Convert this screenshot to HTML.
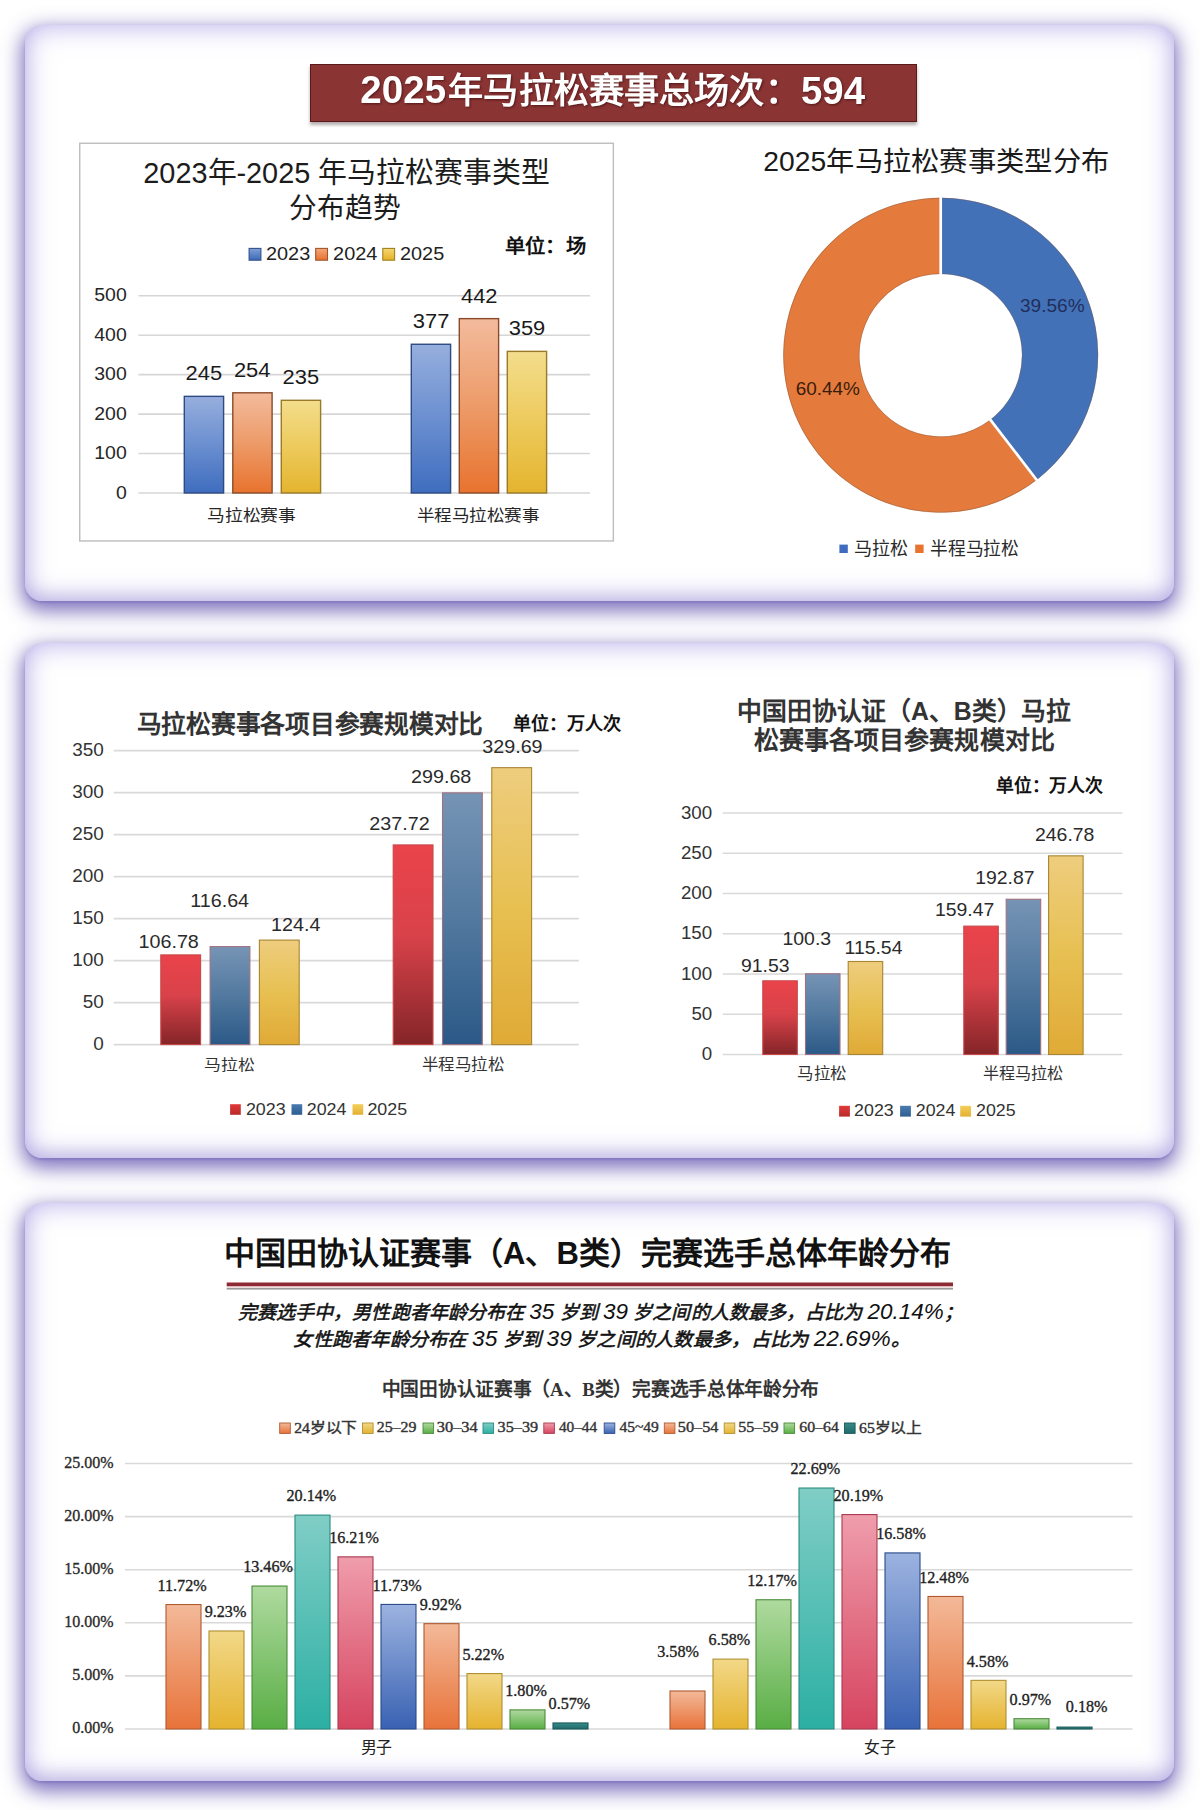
<!DOCTYPE html>
<html lang="zh-CN"><head><meta charset="utf-8"><title>2025马拉松赛事</title>
<style>
html,body{margin:0;padding:0;background:#fff;}
body{width:1200px;height:1810px;position:relative;overflow:hidden;font-family:"Liberation Sans",sans-serif;}
.card{position:absolute;left:25px;width:1149px;border-radius:17px;background:#fff;
box-shadow: inset 0 0 26px 2px rgba(150,135,225,0.62), inset 0 -8px 14px -2px rgba(140,135,175,0.22), 0 7px 20px 3px rgba(95,80,175,0.82), 0 2px 2px rgba(95,80,175,0.25);}
#c1{top:25px;height:576px;}
#c2{top:643px;height:515px;}
#c3{top:1203px;height:578px;}
#banner{position:absolute;left:309.5px;top:63.5px;width:605.5px;height:56px;background:#8a3434;border:1.5px solid #5a1a1d;
box-shadow:0 3px 3px rgba(40,20,20,0.35);color:#fff;font-weight:bold;font-size:36.7px;line-height:56px;text-align:center;}
#banner span{display:inline-block;position:relative;left:0px;top:-1px;transform:scaleY(1.05);text-shadow:1px 1px 2px rgba(40,0,0,0.55);}
svg#ov{position:absolute;left:0;top:0;}
</style></head><body>
<div class="card" id="c1"></div>
<div class="card" id="c2"></div>
<div class="card" id="c3"></div>
<div id="banner"></div>
<svg id="ov" width="1200" height="1810" viewBox="0 0 1200 1810"><defs><linearGradient id="c1b" x1="0" y1="0" x2="0" y2="1"><stop offset="0" stop-color="#96aedd"/><stop offset="0.5" stop-color="#6b8fd0"/><stop offset="1" stop-color="#3f6dbf"/></linearGradient><linearGradient id="c1o" x1="0" y1="0" x2="0" y2="1"><stop offset="0" stop-color="#f3bb9c"/><stop offset="0.5" stop-color="#ed9b69"/><stop offset="1" stop-color="#e8732e"/></linearGradient><linearGradient id="c1y" x1="0" y1="0" x2="0" y2="1"><stop offset="0" stop-color="#f3dd8c"/><stop offset="0.5" stop-color="#edca5c"/><stop offset="1" stop-color="#e4b42e"/></linearGradient><linearGradient id="c2r" x1="0" y1="0" x2="0" y2="1"><stop offset="0" stop-color="#ea434b"/><stop offset="0.45" stop-color="#d9424a"/><stop offset="1" stop-color="#842528"/></linearGradient><linearGradient id="c2b" x1="0" y1="0" x2="0" y2="1"><stop offset="0" stop-color="#7694b5"/><stop offset="0.5" stop-color="#52799f"/><stop offset="1" stop-color="#2b5987"/></linearGradient><linearGradient id="c2y" x1="0" y1="0" x2="0" y2="1"><stop offset="0" stop-color="#eecd7e"/><stop offset="0.5" stop-color="#e7c052"/><stop offset="1" stop-color="#e0aa36"/></linearGradient><linearGradient id="g3o" x1="0" y1="0" x2="0" y2="1"><stop offset="0" stop-color="#f3b999"/><stop offset="1" stop-color="#e8733a"/></linearGradient><linearGradient id="g3y" x1="0" y1="0" x2="0" y2="1"><stop offset="0" stop-color="#f2d888"/><stop offset="1" stop-color="#e5b32f"/></linearGradient><linearGradient id="g3g" x1="0" y1="0" x2="0" y2="1"><stop offset="0" stop-color="#afda9f"/><stop offset="1" stop-color="#59ae45"/></linearGradient><linearGradient id="g3t" x1="0" y1="0" x2="0" y2="1"><stop offset="0" stop-color="#80cec6"/><stop offset="1" stop-color="#2cafa3"/></linearGradient><linearGradient id="g3p" x1="0" y1="0" x2="0" y2="1"><stop offset="0" stop-color="#ef9dac"/><stop offset="1" stop-color="#d6445f"/></linearGradient><linearGradient id="g3b" x1="0" y1="0" x2="0" y2="1"><stop offset="0" stop-color="#9cb3e0"/><stop offset="1" stop-color="#3962b2"/></linearGradient><linearGradient id="g3d" x1="0" y1="0" x2="0" y2="1"><stop offset="0" stop-color="#3a8a8a"/><stop offset="1" stop-color="#1f6a6a"/></linearGradient><linearGradient id="lb" x1="0" y1="0" x2="0" y2="1"><stop offset="0" stop-color="#7f9fd8"/><stop offset="1" stop-color="#3d68b8"/></linearGradient><linearGradient id="lo" x1="0" y1="0" x2="0" y2="1"><stop offset="0" stop-color="#f4a878"/><stop offset="1" stop-color="#e6702f"/></linearGradient><linearGradient id="ly" x1="0" y1="0" x2="0" y2="1"><stop offset="0" stop-color="#f5d772"/><stop offset="1" stop-color="#e4b025"/></linearGradient><linearGradient id="l2r" x1="0" y1="0" x2="0" y2="1"><stop offset="0" stop-color="#e23a3a"/><stop offset="1" stop-color="#b82a2a"/></linearGradient><linearGradient id="l2b" x1="0" y1="0" x2="0" y2="1"><stop offset="0" stop-color="#4a7cb0"/><stop offset="1" stop-color="#2d5d90"/></linearGradient><linearGradient id="l2y" x1="0" y1="0" x2="0" y2="1"><stop offset="0" stop-color="#f3cf5a"/><stop offset="1" stop-color="#e3b032"/></linearGradient></defs>
<text transform="translate(360.35,103.42) scale(1.0150,1.0000)" font-size="38.00" text-anchor="start" font-weight="bold" font-style="normal" fill="#fff" font-family="'Liberation Sans', sans-serif" style="filter:drop-shadow(1px 1.5px 1px rgba(40,0,0,0.55))">2025</text>
<text transform="translate(448.22,102.90) scale(1.00858,1)" font-size="34.8508" text-anchor="start" font-weight="bold" font-style="normal" fill="#fff" font-family="'Liberation Sans', sans-serif" style="filter:drop-shadow(1px 1.5px 1px rgba(40,0,0,0.55))">年马拉松赛事总场次：</text>
<text transform="translate(800.94,103.51) scale(0.9900,1.0000)" font-size="38.80" text-anchor="start" font-weight="bold" font-style="normal" fill="#fff" font-family="'Liberation Sans', sans-serif" style="filter:drop-shadow(1px 1.5px 1px rgba(40,0,0,0.55))">594</text>
<rect x="79.75" y="143.25" width="533.6" height="397.7" fill="#fff" stroke="#bdbdbd" stroke-width="1.4"/>
<text transform="translate(346.37,183.00) scale(0.99251,1)" font-size="29.1092" text-anchor="middle" font-weight="normal" font-style="normal" fill="#1c1c1c" font-family="'Liberation Sans', sans-serif" >2023年-2025 年马拉松赛事类型</text>
<text transform="translate(344.81,218.12) scale(0.98258,1)" font-size="28.2471" text-anchor="middle" font-weight="normal" font-style="normal" fill="#1c1c1c" font-family="'Liberation Sans', sans-serif" >分布趋势</text>
<rect x="249.1" y="248.4" width="11.8" height="11.8" fill="url(#lb)" stroke="#34508a" stroke-width="1.1"/>
<text transform="translate(266.00,259.91) scale(1.0700,1.0000)" font-size="18.60" text-anchor="start" font-weight="normal" font-style="normal" fill="#222" font-family="'Liberation Sans', sans-serif" >2023</text>
<rect x="315.7" y="248.4" width="11.8" height="11.8" fill="url(#lo)" stroke="#a0542a" stroke-width="1.1"/>
<text transform="translate(333.10,259.91) scale(1.0700,1.0000)" font-size="18.60" text-anchor="start" font-weight="normal" font-style="normal" fill="#222" font-family="'Liberation Sans', sans-serif" >2024</text>
<rect x="382.8" y="248.4" width="11.8" height="11.8" fill="url(#ly)" stroke="#a08020" stroke-width="1.1"/>
<text transform="translate(400.00,259.91) scale(1.0700,1.0000)" font-size="18.60" text-anchor="start" font-weight="normal" font-style="normal" fill="#222" font-family="'Liberation Sans', sans-serif" >2025</text>
<text transform="translate(504.81,253.07) scale(1.03360,1)" font-size="19.6722" text-anchor="start" font-weight="bold" font-style="normal" fill="#111" font-family="'Liberation Sans', sans-serif" >单位：场</text>
<line x1="138.40" y1="493.00" x2="590.00" y2="493.00" stroke="#d6d6d6" stroke-width="1.6"/>
<text transform="translate(115.93,498.50) scale(1.0300,1.0000)" font-size="18.90" text-anchor="start" font-weight="normal" font-style="normal" fill="#262626" font-family="'Liberation Sans', sans-serif" >0</text>
<line x1="138.40" y1="453.55" x2="590.00" y2="453.55" stroke="#d6d6d6" stroke-width="1.6"/>
<text transform="translate(94.27,459.05) scale(1.0300,1.0000)" font-size="18.90" text-anchor="start" font-weight="normal" font-style="normal" fill="#262626" font-family="'Liberation Sans', sans-serif" >100</text>
<line x1="138.40" y1="414.10" x2="590.00" y2="414.10" stroke="#d6d6d6" stroke-width="1.6"/>
<text transform="translate(94.27,419.60) scale(1.0300,1.0000)" font-size="18.90" text-anchor="start" font-weight="normal" font-style="normal" fill="#262626" font-family="'Liberation Sans', sans-serif" >200</text>
<line x1="138.40" y1="374.65" x2="590.00" y2="374.65" stroke="#d6d6d6" stroke-width="1.6"/>
<text transform="translate(94.27,380.15) scale(1.0300,1.0000)" font-size="18.90" text-anchor="start" font-weight="normal" font-style="normal" fill="#262626" font-family="'Liberation Sans', sans-serif" >300</text>
<line x1="138.40" y1="335.20" x2="590.00" y2="335.20" stroke="#d6d6d6" stroke-width="1.6"/>
<text transform="translate(94.27,340.70) scale(1.0300,1.0000)" font-size="18.90" text-anchor="start" font-weight="normal" font-style="normal" fill="#262626" font-family="'Liberation Sans', sans-serif" >400</text>
<line x1="138.40" y1="295.75" x2="590.00" y2="295.75" stroke="#d6d6d6" stroke-width="1.6"/>
<text transform="translate(94.27,301.25) scale(1.0300,1.0000)" font-size="18.90" text-anchor="start" font-weight="normal" font-style="normal" fill="#262626" font-family="'Liberation Sans', sans-serif" >500</text>
<rect x="184.30" y="396.35" width="39.30" height="96.65" fill="url(#c1b)" stroke="#2e4a82" stroke-width="1.4"/>
<text transform="translate(185.56,380.34) scale(1.0800,1.0000)" font-size="20.30" text-anchor="start" font-weight="normal" font-style="normal" fill="#1a1a1a" font-family="'Liberation Sans', sans-serif" >245</text>
<rect x="232.80" y="392.80" width="39.30" height="100.20" fill="url(#c1o)" stroke="#8a4a2a" stroke-width="1.4"/>
<text transform="translate(233.92,376.79) scale(1.0800,1.0000)" font-size="20.30" text-anchor="start" font-weight="normal" font-style="normal" fill="#1a1a1a" font-family="'Liberation Sans', sans-serif" >254</text>
<rect x="281.30" y="400.29" width="39.30" height="92.71" fill="url(#c1y)" stroke="#9a7a28" stroke-width="1.4"/>
<text transform="translate(282.56,384.29) scale(1.0800,1.0000)" font-size="20.30" text-anchor="start" font-weight="normal" font-style="normal" fill="#1a1a1a" font-family="'Liberation Sans', sans-serif" >235</text>
<rect x="411.30" y="344.27" width="39.30" height="148.73" fill="url(#c1b)" stroke="#2e4a82" stroke-width="1.4"/>
<text transform="translate(412.81,328.27) scale(1.0800,1.0000)" font-size="20.30" text-anchor="start" font-weight="normal" font-style="normal" fill="#1a1a1a" font-family="'Liberation Sans', sans-serif" >377</text>
<rect x="459.30" y="318.63" width="39.30" height="174.37" fill="url(#c1o)" stroke="#8a4a2a" stroke-width="1.4"/>
<text transform="translate(460.97,302.83) scale(1.0800,1.0000)" font-size="20.30" text-anchor="start" font-weight="normal" font-style="normal" fill="#1a1a1a" font-family="'Liberation Sans', sans-serif" >442</text>
<rect x="507.30" y="351.37" width="39.30" height="141.63" fill="url(#c1y)" stroke="#9a7a28" stroke-width="1.4"/>
<text transform="translate(508.75,335.37) scale(1.0800,1.0000)" font-size="20.30" text-anchor="start" font-weight="normal" font-style="normal" fill="#1a1a1a" font-family="'Liberation Sans', sans-serif" >359</text>
<text transform="translate(251.58,520.81) scale(1.08988,1)" font-size="16.2839" text-anchor="middle" font-weight="normal" font-style="normal" fill="#262626" font-family="'Liberation Sans', sans-serif" >马拉松赛事</text>
<text transform="translate(478.01,520.81) scale(1.06883,1)" font-size="16.4435" text-anchor="middle" font-weight="normal" font-style="normal" fill="#262626" font-family="'Liberation Sans', sans-serif" >半程马拉松赛事</text>
<path d="M940.70,197.80 A157.4,157.4 0 0 1 1036.70,479.93 L990.29,419.63 A81.3,81.3 0 0 0 940.70,273.90 Z" fill="#4371b8"/>
<path d="M1036.70,479.93 A157.4,157.4 0 1 1 940.70,197.80 L940.70,273.90 A81.3,81.3 0 1 0 990.29,419.63 Z" fill="#e47b3c"/>
<circle cx="940.7" cy="355.2" r="157.1" fill="none" stroke="#7a5a48" stroke-width="0.9" opacity="0.45"/>
<circle cx="940.7" cy="355.2" r="81.6" fill="none" stroke="#7a5a48" stroke-width="0.9" opacity="0.4"/>
<line x1="940.70" y1="274.90" x2="940.70" y2="196.80" stroke="#fff" stroke-width="2.7"/>
<line x1="989.68" y1="418.83" x2="1037.31" y2="480.73" stroke="#fff" stroke-width="2.7"/>
<text transform="translate(1019.99,312.12) scale(1.0350,1.0000)" font-size="18.40" text-anchor="start" font-weight="normal" font-style="normal" fill="#1f2f5c" font-family="'Liberation Sans', sans-serif" >39.56%</text>
<text transform="translate(795.75,395.12) scale(1.0300,1.0000)" font-size="18.40" text-anchor="start" font-weight="normal" font-style="normal" fill="#3a1c0c" font-family="'Liberation Sans', sans-serif" >60.44%</text>
<text transform="translate(936.22,170.50) scale(1.02051,1)" font-size="27.7172" text-anchor="middle" font-weight="normal" font-style="normal" fill="#1a1a1a" font-family="'Liberation Sans', sans-serif" >2025年马拉松赛事类型分布</text>
<rect x="839.4" y="544.6" width="8.4" height="8.4" fill="#3f6cc0"/>
<text transform="translate(854.15,554.85) scale(1.00387,1)" font-size="17.9653" text-anchor="start" font-weight="normal" font-style="normal" fill="#2a2a2a" font-family="'Liberation Sans', sans-serif" >马拉松</text>
<rect x="915.2" y="544.6" width="8.4" height="8.4" fill="#e8732f"/>
<text transform="translate(930.15,554.85) scale(0.97025,1)" font-size="18.2739" text-anchor="start" font-weight="normal" font-style="normal" fill="#2a2a2a" font-family="'Liberation Sans', sans-serif" >半程马拉松</text>
<text transform="translate(136.51,732.88) scale(0.98023,1)" font-size="25.2509" text-anchor="start" font-weight="bold" font-style="normal" fill="#333" font-family="'Liberation Sans', sans-serif" >马拉松赛事各项目参赛规模对比</text>
<text transform="translate(513.22,730.22) scale(0.99928,1)" font-size="18.0065" text-anchor="start" font-weight="bold" font-style="normal" fill="#111" font-family="'Liberation Sans', sans-serif" >单位：万人次</text>
<line x1="113.70" y1="1044.60" x2="578.80" y2="1044.60" stroke="#d9d9d9" stroke-width="1.6"/>
<text transform="translate(93.28,1049.85) scale(1.0600,1.0000)" font-size="17.90" text-anchor="start" font-weight="normal" font-style="normal" fill="#333" font-family="'Liberation Sans', sans-serif" >0</text>
<line x1="113.70" y1="1002.60" x2="578.80" y2="1002.60" stroke="#d9d9d9" stroke-width="1.6"/>
<text transform="translate(82.75,1007.85) scale(1.0600,1.0000)" font-size="17.90" text-anchor="start" font-weight="normal" font-style="normal" fill="#333" font-family="'Liberation Sans', sans-serif" >50</text>
<line x1="113.70" y1="960.60" x2="578.80" y2="960.60" stroke="#d9d9d9" stroke-width="1.6"/>
<text transform="translate(72.17,965.85) scale(1.0600,1.0000)" font-size="17.90" text-anchor="start" font-weight="normal" font-style="normal" fill="#333" font-family="'Liberation Sans', sans-serif" >100</text>
<line x1="113.70" y1="918.60" x2="578.80" y2="918.60" stroke="#d9d9d9" stroke-width="1.6"/>
<text transform="translate(72.17,923.85) scale(1.0600,1.0000)" font-size="17.90" text-anchor="start" font-weight="normal" font-style="normal" fill="#333" font-family="'Liberation Sans', sans-serif" >150</text>
<line x1="113.70" y1="876.60" x2="578.80" y2="876.60" stroke="#d9d9d9" stroke-width="1.6"/>
<text transform="translate(72.17,881.85) scale(1.0600,1.0000)" font-size="17.90" text-anchor="start" font-weight="normal" font-style="normal" fill="#333" font-family="'Liberation Sans', sans-serif" >200</text>
<line x1="113.70" y1="834.60" x2="578.80" y2="834.60" stroke="#d9d9d9" stroke-width="1.6"/>
<text transform="translate(72.17,839.85) scale(1.0600,1.0000)" font-size="17.90" text-anchor="start" font-weight="normal" font-style="normal" fill="#333" font-family="'Liberation Sans', sans-serif" >250</text>
<line x1="113.70" y1="792.60" x2="578.80" y2="792.60" stroke="#d9d9d9" stroke-width="1.6"/>
<text transform="translate(72.17,797.85) scale(1.0600,1.0000)" font-size="17.90" text-anchor="start" font-weight="normal" font-style="normal" fill="#333" font-family="'Liberation Sans', sans-serif" >300</text>
<line x1="113.70" y1="750.60" x2="578.80" y2="750.60" stroke="#d9d9d9" stroke-width="1.6"/>
<text transform="translate(72.17,755.85) scale(1.0600,1.0000)" font-size="17.90" text-anchor="start" font-weight="normal" font-style="normal" fill="#333" font-family="'Liberation Sans', sans-serif" >350</text>
<rect x="160.80" y="954.90" width="39.80" height="89.70" fill="url(#c2r)" stroke="#c84848" stroke-width="1.1"/>
<text transform="translate(138.52,947.82) scale(1.0900,1.0000)" font-size="18.10" text-anchor="start" font-weight="normal" font-style="normal" fill="#2a2a2a" font-family="'Liberation Sans', sans-serif" >106.78</text>
<rect x="210.10" y="946.62" width="39.80" height="97.98" fill="url(#c2b)" stroke="#a07080" stroke-width="1.1"/>
<text transform="translate(190.22,906.82) scale(1.0900,1.0000)" font-size="18.10" text-anchor="start" font-weight="normal" font-style="normal" fill="#2a2a2a" font-family="'Liberation Sans', sans-serif" >116.64</text>
<rect x="259.40" y="940.10" width="39.80" height="104.50" fill="url(#c2y)" stroke="#a88530" stroke-width="1.1"/>
<text transform="translate(271.02,930.80) scale(1.0900,1.0000)" font-size="18.10" text-anchor="start" font-weight="normal" font-style="normal" fill="#2a2a2a" font-family="'Liberation Sans', sans-serif" >124.4</text>
<rect x="393.20" y="844.92" width="39.80" height="199.68" fill="url(#c2r)" stroke="#c84848" stroke-width="1.1"/>
<text transform="translate(369.31,829.52) scale(1.0900,1.0000)" font-size="18.10" text-anchor="start" font-weight="normal" font-style="normal" fill="#2a2a2a" font-family="'Liberation Sans', sans-serif" >237.72</text>
<rect x="442.50" y="792.87" width="39.80" height="251.73" fill="url(#c2b)" stroke="#a07080" stroke-width="1.1"/>
<text transform="translate(411.01,782.82) scale(1.0900,1.0000)" font-size="18.10" text-anchor="start" font-weight="normal" font-style="normal" fill="#2a2a2a" font-family="'Liberation Sans', sans-serif" >299.68</text>
<rect x="491.80" y="767.66" width="39.80" height="276.94" fill="url(#c2y)" stroke="#a88530" stroke-width="1.1"/>
<text transform="translate(482.26,753.12) scale(1.0900,1.0000)" font-size="18.10" text-anchor="start" font-weight="normal" font-style="normal" fill="#2a2a2a" font-family="'Liberation Sans', sans-serif" >329.69</text>
<text transform="translate(229.67,1069.85) scale(1.10762,1)" font-size="15.2029" text-anchor="middle" font-weight="normal" font-style="normal" fill="#333" font-family="'Liberation Sans', sans-serif" >马拉松</text>
<text transform="translate(462.84,1069.50) scale(1.06183,1)" font-size="15.5272" text-anchor="middle" font-weight="normal" font-style="normal" fill="#333" font-family="'Liberation Sans', sans-serif" >半程马拉松</text>
<rect x="230.1" y="1104.2" width="10.7" height="10.6" fill="url(#l2r)"/>
<text transform="translate(245.91,1114.64) scale(1.0900,1.0000)" font-size="16.40" text-anchor="start" font-weight="normal" font-style="normal" fill="#333" font-family="'Liberation Sans', sans-serif" >2023</text>
<rect x="291.5" y="1104.2" width="10.7" height="10.6" fill="url(#l2b)"/>
<text transform="translate(306.71,1114.64) scale(1.0900,1.0000)" font-size="16.40" text-anchor="start" font-weight="normal" font-style="normal" fill="#333" font-family="'Liberation Sans', sans-serif" >2024</text>
<rect x="352.5" y="1104.2" width="10.7" height="10.6" fill="url(#l2y)"/>
<text transform="translate(367.41,1114.64) scale(1.0900,1.0000)" font-size="16.40" text-anchor="start" font-weight="normal" font-style="normal" fill="#333" font-family="'Liberation Sans', sans-serif" >2025</text>
<text transform="translate(904.14,720.06) scale(0.98575,1)" font-size="25.1800" text-anchor="middle" font-weight="bold" font-style="normal" fill="#333" font-family="'Liberation Sans', sans-serif" >中国田协认证（A、B类）马拉</text>
<text transform="translate(904.40,749.40) scale(1.00282,1)" font-size="24.9648" text-anchor="middle" font-weight="bold" font-style="normal" fill="#333" font-family="'Liberation Sans', sans-serif" >松赛事各项目参赛规模对比</text>
<text transform="translate(996.00,791.58) scale(0.97790,1)" font-size="18.2022" text-anchor="start" font-weight="bold" font-style="normal" fill="#111" font-family="'Liberation Sans', sans-serif" >单位：万人次</text>
<line x1="722.70" y1="1054.50" x2="1122.30" y2="1054.50" stroke="#d9d9d9" stroke-width="1.6"/>
<text transform="translate(701.80,1060.06) scale(1.0300,1.0000)" font-size="18.20" text-anchor="start" font-weight="normal" font-style="normal" fill="#333" font-family="'Liberation Sans', sans-serif" >0</text>
<line x1="722.70" y1="1014.25" x2="1122.30" y2="1014.25" stroke="#d9d9d9" stroke-width="1.6"/>
<text transform="translate(691.39,1019.81) scale(1.0300,1.0000)" font-size="18.20" text-anchor="start" font-weight="normal" font-style="normal" fill="#333" font-family="'Liberation Sans', sans-serif" >50</text>
<line x1="722.70" y1="974.00" x2="1122.30" y2="974.00" stroke="#d9d9d9" stroke-width="1.6"/>
<text transform="translate(680.94,979.56) scale(1.0300,1.0000)" font-size="18.20" text-anchor="start" font-weight="normal" font-style="normal" fill="#333" font-family="'Liberation Sans', sans-serif" >100</text>
<line x1="722.70" y1="933.75" x2="1122.30" y2="933.75" stroke="#d9d9d9" stroke-width="1.6"/>
<text transform="translate(680.94,939.31) scale(1.0300,1.0000)" font-size="18.20" text-anchor="start" font-weight="normal" font-style="normal" fill="#333" font-family="'Liberation Sans', sans-serif" >150</text>
<line x1="722.70" y1="893.50" x2="1122.30" y2="893.50" stroke="#d9d9d9" stroke-width="1.6"/>
<text transform="translate(680.94,899.06) scale(1.0300,1.0000)" font-size="18.20" text-anchor="start" font-weight="normal" font-style="normal" fill="#333" font-family="'Liberation Sans', sans-serif" >200</text>
<line x1="722.70" y1="853.25" x2="1122.30" y2="853.25" stroke="#d9d9d9" stroke-width="1.6"/>
<text transform="translate(680.94,858.81) scale(1.0300,1.0000)" font-size="18.20" text-anchor="start" font-weight="normal" font-style="normal" fill="#333" font-family="'Liberation Sans', sans-serif" >250</text>
<line x1="722.70" y1="813.00" x2="1122.30" y2="813.00" stroke="#d9d9d9" stroke-width="1.6"/>
<text transform="translate(680.94,818.56) scale(1.0300,1.0000)" font-size="18.20" text-anchor="start" font-weight="normal" font-style="normal" fill="#333" font-family="'Liberation Sans', sans-serif" >300</text>
<rect x="762.80" y="980.82" width="34.50" height="73.68" fill="url(#c2r)" stroke="#c84848" stroke-width="1.1"/>
<text transform="translate(740.98,971.93) scale(1.1100,1.0000)" font-size="17.50" text-anchor="start" font-weight="normal" font-style="normal" fill="#2a2a2a" font-family="'Liberation Sans', sans-serif" >91.53</text>
<rect x="805.50" y="973.76" width="34.50" height="80.74" fill="url(#c2b)" stroke="#a07080" stroke-width="1.1"/>
<text transform="translate(782.54,945.43) scale(1.1100,1.0000)" font-size="17.50" text-anchor="start" font-weight="normal" font-style="normal" fill="#2a2a2a" font-family="'Liberation Sans', sans-serif" >100.3</text>
<rect x="848.20" y="961.49" width="34.50" height="93.01" fill="url(#c2y)" stroke="#a88530" stroke-width="1.1"/>
<text transform="translate(844.54,953.73) scale(1.1100,1.0000)" font-size="17.50" text-anchor="start" font-weight="normal" font-style="normal" fill="#2a2a2a" font-family="'Liberation Sans', sans-serif" >115.54</text>
<rect x="963.80" y="926.13" width="34.50" height="128.37" fill="url(#c2r)" stroke="#c84848" stroke-width="1.1"/>
<text transform="translate(934.94,915.83) scale(1.1100,1.0000)" font-size="17.50" text-anchor="start" font-weight="normal" font-style="normal" fill="#2a2a2a" font-family="'Liberation Sans', sans-serif" >159.47</text>
<rect x="1006.20" y="899.24" width="34.50" height="155.26" fill="url(#c2b)" stroke="#a07080" stroke-width="1.1"/>
<text transform="translate(975.24,883.83) scale(1.1100,1.0000)" font-size="17.50" text-anchor="start" font-weight="normal" font-style="normal" fill="#2a2a2a" font-family="'Liberation Sans', sans-serif" >192.87</text>
<rect x="1048.60" y="855.84" width="34.50" height="198.66" fill="url(#c2y)" stroke="#a88530" stroke-width="1.1"/>
<text transform="translate(1035.03,841.03) scale(1.1100,1.0000)" font-size="17.50" text-anchor="start" font-weight="normal" font-style="normal" fill="#2a2a2a" font-family="'Liberation Sans', sans-serif" >246.78</text>
<text transform="translate(822.18,1078.84) scale(1.06090,1)" font-size="15.5340" text-anchor="middle" font-weight="normal" font-style="normal" fill="#333" font-family="'Liberation Sans', sans-serif" >马拉松</text>
<text transform="translate(1023.01,1078.98) scale(1.01350,1)" font-size="15.8931" text-anchor="middle" font-weight="normal" font-style="normal" fill="#333" font-family="'Liberation Sans', sans-serif" >半程马拉松</text>
<rect x="839.1" y="1105.8" width="10.8" height="10.8" fill="url(#l2r)"/>
<text transform="translate(854.11,1116.43) scale(1.0600,1.0000)" font-size="16.80" text-anchor="start" font-weight="normal" font-style="normal" fill="#333" font-family="'Liberation Sans', sans-serif" >2023</text>
<rect x="900.1" y="1105.8" width="10.8" height="10.8" fill="url(#l2b)"/>
<text transform="translate(915.81,1116.43) scale(1.0600,1.0000)" font-size="16.80" text-anchor="start" font-weight="normal" font-style="normal" fill="#333" font-family="'Liberation Sans', sans-serif" >2024</text>
<rect x="960.2" y="1105.8" width="10.8" height="10.8" fill="url(#l2y)"/>
<text transform="translate(976.01,1116.43) scale(1.0600,1.0000)" font-size="16.80" text-anchor="start" font-weight="normal" font-style="normal" fill="#333" font-family="'Liberation Sans', sans-serif" >2025</text>
<text transform="translate(587.52,1263.80) scale(1.00155,1)" font-size="30.9759" text-anchor="middle" font-weight="bold" font-style="normal" fill="#111" font-family="'Liberation Sans', sans-serif" >中国田协认证赛事（A、B类）完赛选手总体年龄分布</text>
<rect x="226.7" y="1282.5" width="726.3" height="4" fill="#8e2a33"/>
<rect x="226.7" y="1286.5" width="726.3" height="1.5" fill="#f2dede"/>
<rect x="226.7" y="1288" width="726.3" height="1.6" fill="#9a9a9a"/>
<text transform="translate(600.38,1318.58) scale(1.00654,1)" font-size="18.9382" text-anchor="middle" font-weight="normal" font-style="italic" fill="#111" font-family="'Liberation Sans', sans-serif" stroke="#111" stroke-width="0.55">完赛选手中，男性跑者年龄分布在 <tspan font-size="22.347" stroke-width="0">35</tspan> 岁到 <tspan font-size="22.347" stroke-width="0">39</tspan> 岁之间的人数最多，占比为 <tspan font-size="22.347" stroke-width="0">20.14%</tspan>；</text>
<text transform="translate(601.67,1345.78) scale(1.02795,1)" font-size="18.7399" text-anchor="middle" font-weight="normal" font-style="italic" fill="#111" font-family="'Liberation Sans', sans-serif" stroke="#111" stroke-width="0.55">女性跑者年龄分布在 <tspan font-size="22.113" stroke-width="0">35</tspan> 岁到 <tspan font-size="22.113" stroke-width="0">39</tspan> 岁之间的人数最多，占比为 <tspan font-size="22.113" stroke-width="0">22.69%</tspan>。</text>
<text transform="translate(600.44,1395.64) scale(0.96956,1)" font-size="19.2959" text-anchor="middle" font-weight="bold" font-style="normal" fill="#333" font-family="'Liberation Serif', serif" >中国田协认证赛事（A、B类）完赛选手总体年龄分布</text>
<rect x="279.7" y="1423" width="10.6" height="10.4" fill="url(#g3o)" stroke="#b05a30" stroke-width="0.9"/>
<text transform="translate(294.24,1432.60) scale(1.10629,1)" font-size="14.2612" text-anchor="start" font-weight="normal" font-style="normal" fill="#333" font-family="'Liberation Serif', serif" stroke="#333" stroke-width="0.4">24岁以下</text>
<rect x="362.5" y="1423" width="10.6" height="10.4" fill="url(#g3y)" stroke="#b08f30" stroke-width="0.9"/>
<text transform="translate(376.68,1432.35) scale(1.0628,1.0000)" font-size="15.00" text-anchor="start" font-weight="normal" font-style="normal" fill="#333" font-family="'Liberation Serif', serif" stroke="#333" stroke-width="0.4">25–29</text>
<rect x="423.0" y="1423" width="10.6" height="10.4" fill="url(#g3g)" stroke="#4a8a3a" stroke-width="0.9"/>
<text transform="translate(436.72,1432.35) scale(1.0940,1.0000)" font-size="15.00" text-anchor="start" font-weight="normal" font-style="normal" fill="#333" font-family="'Liberation Serif', serif" stroke="#333" stroke-width="0.4">30–34</text>
<rect x="483.0" y="1423" width="10.6" height="10.4" fill="url(#g3t)" stroke="#2a8a80" stroke-width="0.9"/>
<text transform="translate(497.53,1432.35) scale(1.0832,1.0000)" font-size="15.00" text-anchor="start" font-weight="normal" font-style="normal" fill="#333" font-family="'Liberation Serif', serif" stroke="#333" stroke-width="0.4">35–39</text>
<rect x="543.8" y="1423" width="10.6" height="10.4" fill="url(#g3p)" stroke="#a83a50" stroke-width="0.9"/>
<text transform="translate(558.89,1432.35) scale(1.0223,1.0000)" font-size="15.00" text-anchor="start" font-weight="normal" font-style="normal" fill="#333" font-family="'Liberation Serif', serif" stroke="#333" stroke-width="0.4">40–44</text>
<rect x="604.2" y="1423" width="10.6" height="10.4" fill="url(#g3b)" stroke="#2a4a8a" stroke-width="0.9"/>
<text transform="translate(619.39,1432.35) scale(1.0376,1.0000)" font-size="15.00" text-anchor="start" font-weight="normal" font-style="normal" fill="#333" font-family="'Liberation Serif', serif" stroke="#333" stroke-width="0.4">45~49</text>
<rect x="664.3" y="1423" width="10.6" height="10.4" fill="url(#g3o)" stroke="#b05a30" stroke-width="0.9"/>
<text transform="translate(677.76,1432.35) scale(1.0875,1.0000)" font-size="15.00" text-anchor="start" font-weight="normal" font-style="normal" fill="#333" font-family="'Liberation Serif', serif" stroke="#333" stroke-width="0.4">50–54</text>
<rect x="724.2" y="1423" width="10.6" height="10.4" fill="url(#g3y)" stroke="#b08f30" stroke-width="0.9"/>
<text transform="translate(738.27,1432.35) scale(1.0767,1.0000)" font-size="15.00" text-anchor="start" font-weight="normal" font-style="normal" fill="#333" font-family="'Liberation Serif', serif" stroke="#333" stroke-width="0.4">55–59</text>
<rect x="784.0" y="1423" width="10.6" height="10.4" fill="url(#g3g)" stroke="#4a8a3a" stroke-width="0.9"/>
<text transform="translate(799.33,1432.35) scale(1.0563,1.0000)" font-size="15.00" text-anchor="start" font-weight="normal" font-style="normal" fill="#333" font-family="'Liberation Serif', serif" stroke="#333" stroke-width="0.4">60–64</text>
<rect x="844.5" y="1423" width="10.6" height="10.4" fill="url(#g3d)" stroke="#1a5a5a" stroke-width="0.9"/>
<text transform="translate(859.00,1432.81) scale(1.10629,1)" font-size="14.2612" text-anchor="start" font-weight="normal" font-style="normal" fill="#333" font-family="'Liberation Serif', serif" stroke="#333" stroke-width="0.4">65岁以上</text>
<line x1="125.00" y1="1729.00" x2="1132.50" y2="1729.00" stroke="#d9d9d9" stroke-width="1.6"/>
<text transform="translate(72.36,1733.22) scale(0.9100,1.0000)" font-size="17.60" text-anchor="start" font-weight="normal" font-style="normal" fill="#2a2a2a" font-family="'Liberation Serif', serif" stroke="#2a2a2a" stroke-width="0.35">0.00%</text>
<line x1="125.00" y1="1675.90" x2="1132.50" y2="1675.90" stroke="#d9d9d9" stroke-width="1.6"/>
<text transform="translate(72.36,1680.12) scale(0.9100,1.0000)" font-size="17.60" text-anchor="start" font-weight="normal" font-style="normal" fill="#2a2a2a" font-family="'Liberation Serif', serif" stroke="#2a2a2a" stroke-width="0.35">5.00%</text>
<line x1="125.00" y1="1622.80" x2="1132.50" y2="1622.80" stroke="#d9d9d9" stroke-width="1.6"/>
<text transform="translate(64.35,1627.02) scale(0.9100,1.0000)" font-size="17.60" text-anchor="start" font-weight="normal" font-style="normal" fill="#2a2a2a" font-family="'Liberation Serif', serif" stroke="#2a2a2a" stroke-width="0.35">10.00%</text>
<line x1="125.00" y1="1569.70" x2="1132.50" y2="1569.70" stroke="#d9d9d9" stroke-width="1.6"/>
<text transform="translate(64.35,1573.92) scale(0.9100,1.0000)" font-size="17.60" text-anchor="start" font-weight="normal" font-style="normal" fill="#2a2a2a" font-family="'Liberation Serif', serif" stroke="#2a2a2a" stroke-width="0.35">15.00%</text>
<line x1="125.00" y1="1516.60" x2="1132.50" y2="1516.60" stroke="#d9d9d9" stroke-width="1.6"/>
<text transform="translate(64.35,1520.82) scale(0.9100,1.0000)" font-size="17.60" text-anchor="start" font-weight="normal" font-style="normal" fill="#2a2a2a" font-family="'Liberation Serif', serif" stroke="#2a2a2a" stroke-width="0.35">20.00%</text>
<line x1="125.00" y1="1463.50" x2="1132.50" y2="1463.50" stroke="#d9d9d9" stroke-width="1.6"/>
<text transform="translate(64.35,1467.72) scale(0.9100,1.0000)" font-size="17.60" text-anchor="start" font-weight="normal" font-style="normal" fill="#2a2a2a" font-family="'Liberation Serif', serif" stroke="#2a2a2a" stroke-width="0.35">25.00%</text>
<rect x="166.00" y="1604.53" width="35.00" height="124.47" fill="url(#g3o)" stroke="#b05a30" stroke-width="1.1"/>
<text transform="translate(157.47,1590.68) scale(0.9500,1.0000)" font-size="17.00" text-anchor="start" font-weight="normal" font-style="normal" fill="#222" font-family="'Liberation Serif', serif" stroke="#222" stroke-width="0.35">11.72%</text>
<rect x="209.00" y="1630.98" width="35.00" height="98.02" fill="url(#g3y)" stroke="#b08f30" stroke-width="1.1"/>
<text transform="translate(204.65,1617.12) scale(0.9500,1.0000)" font-size="17.00" text-anchor="start" font-weight="normal" font-style="normal" fill="#222" font-family="'Liberation Serif', serif" stroke="#222" stroke-width="0.35">9.23%</text>
<rect x="252.00" y="1586.05" width="35.00" height="142.95" fill="url(#g3g)" stroke="#4a8a3a" stroke-width="1.1"/>
<text transform="translate(243.16,1572.20) scale(0.9500,1.0000)" font-size="17.00" text-anchor="start" font-weight="normal" font-style="normal" fill="#222" font-family="'Liberation Serif', serif" stroke="#222" stroke-width="0.35">13.46%</text>
<rect x="295.00" y="1515.11" width="35.00" height="213.89" fill="url(#g3t)" stroke="#2a8a80" stroke-width="1.1"/>
<text transform="translate(286.51,1501.26) scale(0.9500,1.0000)" font-size="17.00" text-anchor="start" font-weight="normal" font-style="normal" fill="#222" font-family="'Liberation Serif', serif" stroke="#222" stroke-width="0.35">20.14%</text>
<rect x="338.00" y="1556.85" width="35.00" height="172.15" fill="url(#g3p)" stroke="#a83a50" stroke-width="1.1"/>
<text transform="translate(329.16,1542.99) scale(0.9500,1.0000)" font-size="17.00" text-anchor="start" font-weight="normal" font-style="normal" fill="#222" font-family="'Liberation Serif', serif" stroke="#222" stroke-width="0.35">16.21%</text>
<rect x="381.00" y="1604.43" width="35.00" height="124.57" fill="url(#g3b)" stroke="#2a4a8a" stroke-width="1.1"/>
<text transform="translate(372.47,1590.57) scale(0.9500,1.0000)" font-size="17.00" text-anchor="start" font-weight="normal" font-style="normal" fill="#222" font-family="'Liberation Serif', serif" stroke="#222" stroke-width="0.35">11.73%</text>
<rect x="424.00" y="1623.65" width="35.00" height="105.35" fill="url(#g3o)" stroke="#b05a30" stroke-width="1.1"/>
<text transform="translate(419.65,1609.79) scale(0.9500,1.0000)" font-size="17.00" text-anchor="start" font-weight="normal" font-style="normal" fill="#222" font-family="'Liberation Serif', serif" stroke="#222" stroke-width="0.35">9.92%</text>
<rect x="467.00" y="1673.56" width="35.00" height="55.44" fill="url(#g3y)" stroke="#b08f30" stroke-width="1.1"/>
<text transform="translate(462.44,1659.71) scale(0.9500,1.0000)" font-size="17.00" text-anchor="start" font-weight="normal" font-style="normal" fill="#222" font-family="'Liberation Serif', serif" stroke="#222" stroke-width="0.35">5.22%</text>
<rect x="510.00" y="1709.88" width="35.00" height="19.12" fill="url(#g3g)" stroke="#4a8a3a" stroke-width="1.1"/>
<text transform="translate(505.20,1696.03) scale(0.9500,1.0000)" font-size="17.00" text-anchor="start" font-weight="normal" font-style="normal" fill="#222" font-family="'Liberation Serif', serif" stroke="#222" stroke-width="0.35">1.80%</text>
<rect x="553.00" y="1722.95" width="35.00" height="6.05" fill="url(#g3d)" stroke="#1a5a5a" stroke-width="1.1"/>
<text transform="translate(548.61,1709.09) scale(0.9500,1.0000)" font-size="17.00" text-anchor="start" font-weight="normal" font-style="normal" fill="#222" font-family="'Liberation Serif', serif" stroke="#222" stroke-width="0.35">0.57%</text>
<rect x="670.00" y="1690.98" width="35.00" height="38.02" fill="url(#g3o)" stroke="#b05a30" stroke-width="1.1"/>
<text transform="translate(657.23,1657.04) scale(0.9500,1.0000)" font-size="17.00" text-anchor="start" font-weight="normal" font-style="normal" fill="#222" font-family="'Liberation Serif', serif" stroke="#222" stroke-width="0.35">3.58%</text>
<rect x="713.00" y="1659.12" width="35.00" height="69.88" fill="url(#g3y)" stroke="#b08f30" stroke-width="1.1"/>
<text transform="translate(708.57,1645.27) scale(0.9500,1.0000)" font-size="17.00" text-anchor="start" font-weight="normal" font-style="normal" fill="#222" font-family="'Liberation Serif', serif" stroke="#222" stroke-width="0.35">6.58%</text>
<rect x="756.00" y="1599.75" width="35.00" height="129.25" fill="url(#g3g)" stroke="#4a8a3a" stroke-width="1.1"/>
<text transform="translate(747.16,1585.90) scale(0.9500,1.0000)" font-size="17.00" text-anchor="start" font-weight="normal" font-style="normal" fill="#222" font-family="'Liberation Serif', serif" stroke="#222" stroke-width="0.35">12.17%</text>
<rect x="799.00" y="1488.03" width="35.00" height="240.97" fill="url(#g3t)" stroke="#2a8a80" stroke-width="1.1"/>
<text transform="translate(790.51,1474.18) scale(0.9500,1.0000)" font-size="17.00" text-anchor="start" font-weight="normal" font-style="normal" fill="#222" font-family="'Liberation Serif', serif" stroke="#222" stroke-width="0.35">22.69%</text>
<rect x="842.00" y="1514.58" width="35.00" height="214.42" fill="url(#g3p)" stroke="#a83a50" stroke-width="1.1"/>
<text transform="translate(833.51,1500.73) scale(0.9500,1.0000)" font-size="17.00" text-anchor="start" font-weight="normal" font-style="normal" fill="#222" font-family="'Liberation Serif', serif" stroke="#222" stroke-width="0.35">20.19%</text>
<rect x="885.00" y="1552.92" width="35.00" height="176.08" fill="url(#g3b)" stroke="#2a4a8a" stroke-width="1.1"/>
<text transform="translate(876.16,1539.07) scale(0.9500,1.0000)" font-size="17.00" text-anchor="start" font-weight="normal" font-style="normal" fill="#222" font-family="'Liberation Serif', serif" stroke="#222" stroke-width="0.35">16.58%</text>
<rect x="928.00" y="1596.46" width="35.00" height="132.54" fill="url(#g3o)" stroke="#b05a30" stroke-width="1.1"/>
<text transform="translate(919.16,1582.61) scale(0.9500,1.0000)" font-size="17.00" text-anchor="start" font-weight="normal" font-style="normal" fill="#222" font-family="'Liberation Serif', serif" stroke="#222" stroke-width="0.35">12.48%</text>
<rect x="971.00" y="1680.36" width="35.00" height="48.64" fill="url(#g3y)" stroke="#b08f30" stroke-width="1.1"/>
<text transform="translate(966.75,1666.51) scale(0.9500,1.0000)" font-size="17.00" text-anchor="start" font-weight="normal" font-style="normal" fill="#222" font-family="'Liberation Serif', serif" stroke="#222" stroke-width="0.35">4.58%</text>
<rect x="1014.00" y="1718.70" width="35.00" height="10.30" fill="url(#g3g)" stroke="#4a8a3a" stroke-width="1.1"/>
<text transform="translate(1009.61,1704.84) scale(0.9500,1.0000)" font-size="17.00" text-anchor="start" font-weight="normal" font-style="normal" fill="#222" font-family="'Liberation Serif', serif" stroke="#222" stroke-width="0.35">0.97%</text>
<rect x="1057.00" y="1727.09" width="35.00" height="1.91" fill="url(#g3d)" stroke="#1a5a5a" stroke-width="1.1"/>
<text transform="translate(1065.81,1712.44) scale(0.9500,1.0000)" font-size="17.00" text-anchor="start" font-weight="normal" font-style="normal" fill="#222" font-family="'Liberation Serif', serif" stroke="#222" stroke-width="0.35">0.18%</text>
<text transform="translate(376.49,1752.80) scale(0.98870,1)" font-size="16.0912" text-anchor="middle" font-weight="normal" font-style="normal" fill="#222" font-family="'Liberation Serif', serif" >男子</text>
<text transform="translate(879.65,1753.15) scale(0.98409,1)" font-size="16.1288" text-anchor="middle" font-weight="normal" font-style="normal" fill="#222" font-family="'Liberation Serif', serif" >女子</text>
</svg>
</body></html>
